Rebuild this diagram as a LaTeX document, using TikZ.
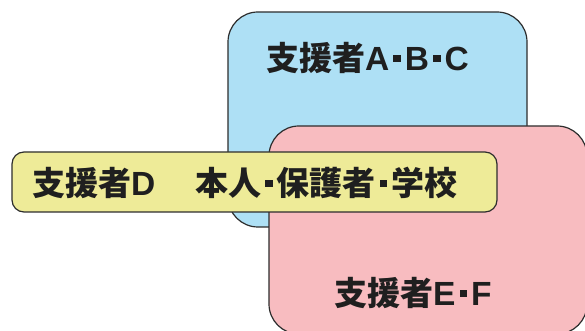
\documentclass[tikz,border=0pt]{standalone}
\usepackage{fontspec}
\newfontfamily\cjk{Noto Sans CJK JP}
\newfontfamily\latfont{Liberation Sans}
\newcommand{\lat}[1]{{\latfont\bfseries\fontsize{33.5}{38}\selectfont #1}}
\newcommand{\mdot}{\hspace{4pt}\rule[8.5pt]{7.5pt}{7.5pt}\hspace{4pt}}
\definecolor{boxblue}{RGB}{174,224,245}
\definecolor{boxpink}{RGB}{248,188,192}
\definecolor{boxyellow}{RGB}{238,235,152}
\definecolor{edge}{RGB}{45,45,45}
\tikzset{
  region/.style={draw=edge, line width=1.2pt, rounded corners=30pt},
  label/.style={anchor=west, inner sep=0pt, text=black!88, font=\cjk\bfseries\fontsize{33}{38}\selectfont}
}
\begin{document}
\begin{tikzpicture}[x=1pt,y=1pt]
\useasboundingbox (0,0) rectangle (585,331);
\begin{scope}
\clip (0,0) rectangle (585,331);
\draw[region, fill=boxblue] (228,104) rectangle (527,319);
\draw[region, fill=boxpink] (269,-3) rectangle (587,205);
\draw[region, fill=boxyellow, rounded corners=12pt] (12,119) rectangle (497,179);
\end{scope}
\node[label] (abc) at (266,273) {支援者\lat{A}\mdot\lat{B}\mdot\lat{C}};
\node[label] (d) at (32,148) {支援者\lat{D}\hspace{40pt}本人\mdot 保護者\mdot 学校};
\node[label] (ef) at (334,38) {支援者\lat{E}\mdot\lat{F}};
\end{tikzpicture}
\end{document}
